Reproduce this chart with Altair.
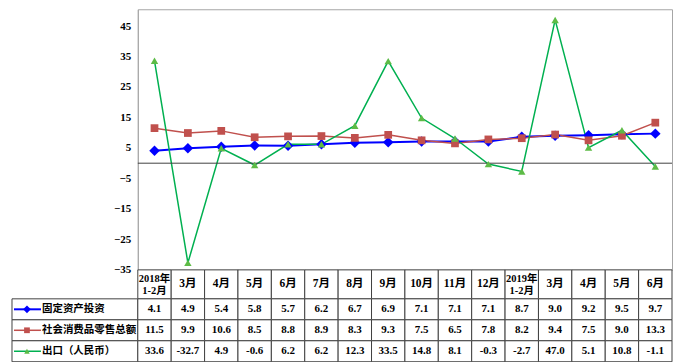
import altair as alt
import pandas as pd

periods = ["2018-02", "2018-03", "2018-04", "2018-05", "2018-06", "2018-07", "2018-08",
           "2018-09", "2018-10", "2018-11", "2018-12", "2019-02", "2019-03", "2019-04",
           "2019-05", "2019-06"]
period_labels = ["2018年\n1-2月", "3月", "4月", "5月", "6月", "7月", "8月", "9月", "10月",
                 "11月", "12月", "2019年\n1-2月", "3月", "4月", "5月", "6月"]
series_names = ["固定资产投资", "社会消费品零售总额", "出口（人民币）"]
investment = [4.1, 4.9, 5.4, 5.8, 5.7, 6.2, 6.7, 6.9, 7.1, 7.1, 7.1, 8.7, 9.0, 9.2, 9.5, 9.7]
retail = [11.5, 9.9, 10.6, 8.5, 8.8, 8.9, 8.3, 9.3, 7.5, 6.5, 7.8, 8.2, 9.4, 7.5, 9.0, 13.3]
export = [33.6, -32.7, 4.9, -0.6, 6.2, 6.2, 12.3, 33.5, 14.8, 8.1, -0.3, -2.7, 47.0, 5.1, 10.8, -1.1]
y_ticks = [-35, -25, -15, -5, 5, 15, 25, 35, 45]

line_colors = ["#0000FF", "#C0504D", "#00B050"]
marker_fills = ["#0000FF", "#C0504D", "#5DBB46"]
marker_shapes = ["diamond", "square", "triangle-up"]
marker_sizes = [110, 60, 55]
line_widths = [2, 1.5, 1.5]

FONT = "Liberation Serif, Noto Sans CJK SC"
GRID = "#404040"

rows = []
for name, vals in zip(series_names, [investment, retail, export]):
    for p, v in zip(periods, vals):
        rows.append({"period": p, "series": name, "value": v})
df = pd.DataFrame(rows)
df["text"] = df["value"].map(lambda v: f"{v:.1f}")

hdr = pd.DataFrame({"period": periods, "label": period_labels})

W_LEFT, W_PLOT = 126, 535
H_PLOT, H_HDR, H_TAB = 261, 29, 63

x_point = alt.X("period:N", sort=periods,
                scale=alt.Scale(domain=periods, type="point", padding=0.5), axis=None)
x_band = alt.X("period:N", sort=periods,
               scale=alt.Scale(domain=periods, paddingInner=0, paddingOuter=0), axis=None)
y_scale = alt.Scale(domain=[-35, 50.5], nice=False, zero=False)
y_axis = alt.Axis(values=y_ticks, grid=False, ticks=False, domainColor="#a6a6a6",
                  labelFont=FONT, labelFontWeight="bold", labelFontSize=11,
                  labelColor="#000", labelPadding=7, title=None)
y_val = alt.Y("value:Q", scale=y_scale, axis=y_axis)

layers = []
for i, name in enumerate(series_names):
    base = alt.Chart(df).transform_filter(alt.datum.series == name)
    layers.append(base.mark_line(color=line_colors[i], strokeWidth=line_widths[i]).encode(
        x=x_point, y=y_val))
zero = alt.Chart(pd.DataFrame({"value": [0]})).mark_rule(color="#404040", strokeWidth=1).encode(
    y=y_val)
layers.append(zero)
for i, name in enumerate(series_names):
    base = alt.Chart(df).transform_filter(alt.datum.series == name)
    layers.append(base.mark_point(filled=True, shape=marker_shapes[i], size=marker_sizes[i],
                                  color=marker_fills[i], opacity=1).encode(x=x_point, y=y_val))

line_chart = alt.layer(*layers).properties(
    width=W_PLOT, height=H_PLOT, view=alt.ViewBackground(stroke="#a6a6a6"))


def blank(h):
    return alt.Chart(pd.DataFrame({"a": [0]})).mark_point(opacity=0).properties(
        width=W_LEFT, height=h)


multi = "indexof(datum.label, '\\n') >= 0"
header_cells = alt.Chart(hdr).mark_rect(fill="white", stroke=GRID, strokeWidth=1).encode(x=x_band)
header_text1 = alt.Chart(hdr).transform_filter("!(" + multi + ")").mark_text(
    font=FONT, fontWeight="bold", fontSize=11.5, baseline="middle", color="#000").encode(
    x=x_band, text="label:N")
header_text2 = alt.Chart(hdr).transform_filter(multi).mark_text(
    font=FONT, fontWeight="bold", fontSize=10.5, lineBreak="\n", lineHeight=12,
    baseline="middle", dy=-5, color="#000").encode(x=x_band, text="label:N")
header = alt.layer(header_cells, header_text1, header_text2).properties(
    width=W_PLOT, height=H_HDR)

y_band = alt.Y("series:N", sort=series_names,
               scale=alt.Scale(domain=series_names, paddingInner=0, paddingOuter=0), axis=None)
tab_cells = alt.Chart(df).mark_rect(fill="white", stroke=GRID, strokeWidth=1).encode(
    x=x_band, y=y_band)
tab_text = alt.Chart(df).mark_text(font=FONT, fontWeight="bold", fontSize=11,
                                   baseline="middle", color="#000").encode(
    x=x_band, y=y_band, text="text:N")
table = alt.layer(tab_cells, tab_text).properties(width=W_PLOT, height=H_TAB)

lab = pd.DataFrame({"series": series_names})
lab_cells = alt.Chart(lab).mark_rect(fill="white", stroke=GRID, strokeWidth=1).encode(y=y_band)
lab_layers = [lab_cells]
for i, name in enumerate(series_names):
    b = alt.Chart(lab).transform_filter(alt.datum.series == name)
    lab_layers.append(b.mark_rule(color=line_colors[i], strokeWidth=line_widths[i]).encode(
        x=alt.value(2), x2=alt.value(29), y=y_band))
    lab_layers.append(b.mark_point(filled=True, shape=marker_shapes[i],
                                   size=marker_sizes[i] * 0.55, color=marker_fills[i],
                                   opacity=1).encode(x=alt.value(15), y=y_band))
lab_layers.append(alt.Chart(lab).mark_text(font=FONT, fontWeight="bold", fontSize=10.5,
                                           align="left", baseline="middle", color="#000").encode(
    x=alt.value(30), y=y_band, text="series:N"))
labels = alt.layer(*lab_layers).properties(width=W_LEFT, height=H_TAB)

chart = alt.concat(blank(H_PLOT), line_chart, blank(H_HDR), header, labels, table,
                   columns=2, spacing=0, bounds="flush").properties(
    padding={"left": 3, "top": 0, "right": 2, "bottom": 0}
).configure_view(stroke="transparent")

chart.save("out.html", embed_options={"renderer": "svg", "actions": False})
